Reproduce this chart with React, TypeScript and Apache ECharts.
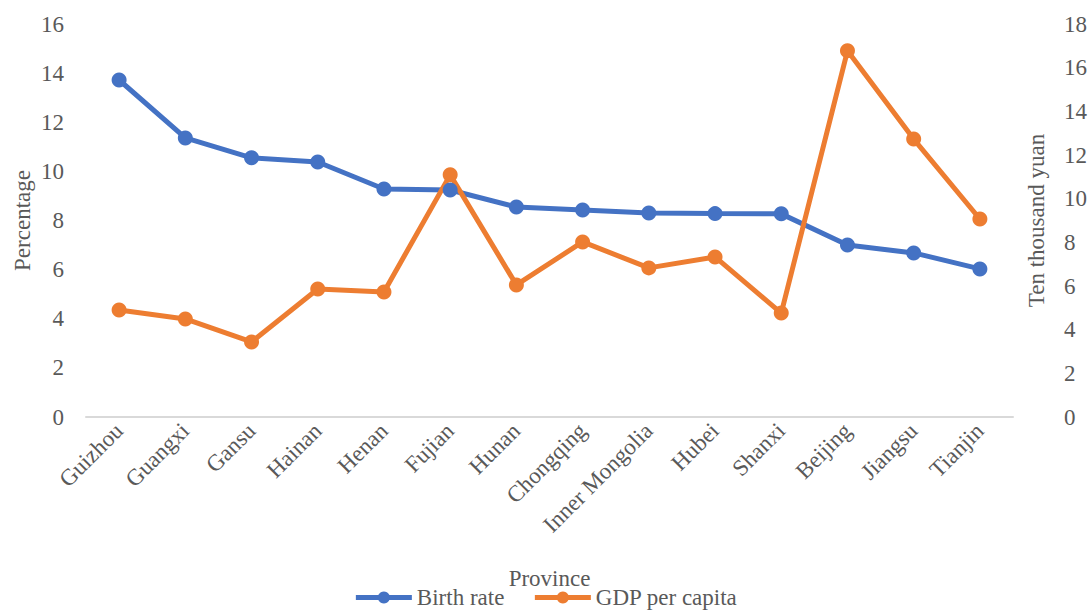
import React, { useEffect, useRef } from "react";
import * as echarts from "echarts";

const provinces = [
  "Guizhou", "Guangxi", "Gansu", "Hainan", "Henan", "Fujian", "Hunan",
  "Chongqing", "Inner Mongolia", "Hubei", "Shanxi", "Beijing", "Jiangsu", "Tianjin",
];
const birthRate = [13.72, 11.36, 10.55, 10.38, 9.28, 9.24, 8.55, 8.43, 8.31, 8.28, 8.27, 7.0, 6.68, 6.03];
const gdpPerCapita = [4.9, 4.49, 3.44, 5.86, 5.73, 11.09, 6.05, 8.02, 6.83, 7.33, 4.76, 16.77, 12.73, 9.07];

const FONT = "'Liberation Serif', 'Times New Roman', serif";
const TEXT = "#595959";

export default function App() {
  const ref = useRef<HTMLDivElement>(null);
  useEffect(() => {
    document.body.style.margin = "0";
    const chart = echarts.init(ref.current!, null, { renderer: "svg" });
    chart.setOption({
      animation: false,
      backgroundColor: "#ffffff",
      textStyle: { fontFamily: FONT, color: TEXT },
      grid: { left: 86, right: 78, top: 24, bottom: 193, containLabel: false, outerBoundsMode: "none" },
      legend: {
        top: 581,
        left: "center",
        itemWidth: 56,
        itemHeight: 15,
        itemGap: 28,
        lineStyle: { width: 5 },
        textStyle: { fontFamily: FONT, fontSize: 23, color: TEXT },
        data: ["Birth rate", "GDP per capita"],
      },
      xAxis: {
        type: "category",
        data: provinces,
        boundaryGap: true,
        name: "Province",
        nameLocation: "middle",
        nameGap: 150,
        nameMoveOverlap: false,
        nameTextStyle: { fontFamily: FONT, fontSize: 23, color: TEXT },
        axisLine: { lineStyle: { color: "#d9d9d9", width: 2 } },
        axisTick: { show: false },
        axisLabel: { rotate: 45, fontFamily: FONT, fontSize: 23, color: TEXT, margin: 10, interval: 0 },
      },
      yAxis: [
        {
          type: "value",
          min: 0,
          max: 16,
          interval: 2,
          name: "Percentage",
          nameLocation: "middle",
          nameGap: 52,
          nameMoveOverlap: false,
          nameTextStyle: { fontFamily: FONT, fontSize: 23, color: TEXT },
          axisLine: { show: false },
          axisTick: { show: false },
          splitLine: { show: false },
          axisLabel: { fontFamily: FONT, fontSize: 23, color: TEXT, margin: 22 },
        },
        {
          type: "value",
          min: 0,
          max: 18,
          interval: 2,
          position: "right",
          name: "Ten thousand yuan",
          nameLocation: "middle",
          nameRotate: 90,
          nameGap: 12,
          nameMoveOverlap: false,
          nameTextStyle: { fontFamily: FONT, fontSize: 23, color: TEXT },
          axisLine: { show: false },
          axisTick: { show: false },
          splitLine: { show: false },
          axisLabel: { fontFamily: FONT, fontSize: 23, color: TEXT, margin: 51 },
        },
      ],
      series: [
        {
          name: "Birth rate",
          type: "line",
          yAxisIndex: 0,
          data: birthRate,
          symbol: "circle",
          symbolSize: 15,
          lineStyle: { color: "#4472C4", width: 5 },
          itemStyle: { color: "#4472C4" },
        },
        {
          name: "GDP per capita",
          type: "line",
          yAxisIndex: 1,
          data: gdpPerCapita,
          symbol: "circle",
          symbolSize: 15,
          lineStyle: { color: "#ED7D31", width: 5 },
          itemStyle: { color: "#ED7D31" },
        },
      ],
    });
    return () => chart.dispose();
  }, []);
  return <div ref={ref} style={{ width: 1091, height: 610 }} />;
}
